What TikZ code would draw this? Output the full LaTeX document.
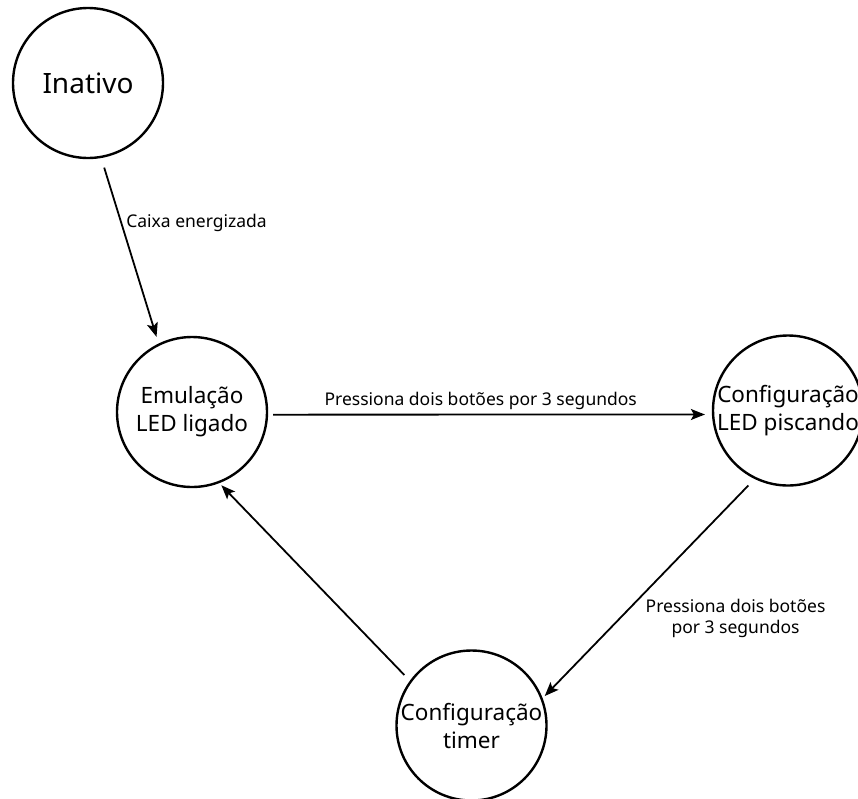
\documentclass[tikz,border=0pt]{standalone}
\usepackage{fontspec}
\setmainfont{Noto Sans}
\usetikzlibrary{arrows.meta,positioning}

\begin{document}
\begin{tikzpicture}[
  x=1pt, y=-1pt,
  %--- state styles ---
  state/.style={draw, circle, line width=2.4pt, minimum size=150pt, inner sep=0pt,
    align=center, font=\fontsize{22.5}{28}\selectfont},
  start/.style={state, font=\fontsize{28}{34}\selectfont},
  %--- arrows ---
  arr/.style={-{Stealth[length=14pt, width=11pt, inset=3pt]}, line width=1.8pt},
  %--- labels ---
  lbl/.style={font=\fontsize{17.5}{21}\selectfont, inner sep=0pt, align=center}
]
\useasboundingbox (0,0) rectangle (858,798);

%% ── STATES ──────────────────────────────────────────────────────────────────
\node[start] (inat) at (88,83) {Inativo};
\node[state] (emul) at (192,412) {Emulação\\LED ligado};
\node[state] (cfgled) at (788,410.5) {Configuração\\LED piscando};
\node[state] (cfgtimer) at (471.5,725.5) {Configuração\\timer};

%% ── TRANSITIONS ─────────────────────────────────────────────────────────────
\draw[arr, shorten <=10pt, shorten >=7pt] (inat.-80) -- (emul.116)
  node[lbl, pos=0.377, anchor=base west, xshift=2.5pt] {Caixa energizada};
\draw[arr, shorten <=5pt, shorten >=7pt] (emul.-2) -- (cfgled.183)
  node[lbl, pos=0.479, anchor=base, yshift=9.5pt] {Pressiona dois botões por 3 segundos};
\draw[arr, shorten <=9pt, shorten >=3pt] (cfgled.-116) -- (cfgtimer.21.6)
  node[lbl, pos=0.636, anchor=west, xshift=25pt] {Pressiona dois botões\\por 3 segundos};
\draw[arr, shorten <=8pt, shorten >=3pt] (cfgtimer.144.7) -- (emul.-69.7);
\end{tikzpicture}
\end{document}
